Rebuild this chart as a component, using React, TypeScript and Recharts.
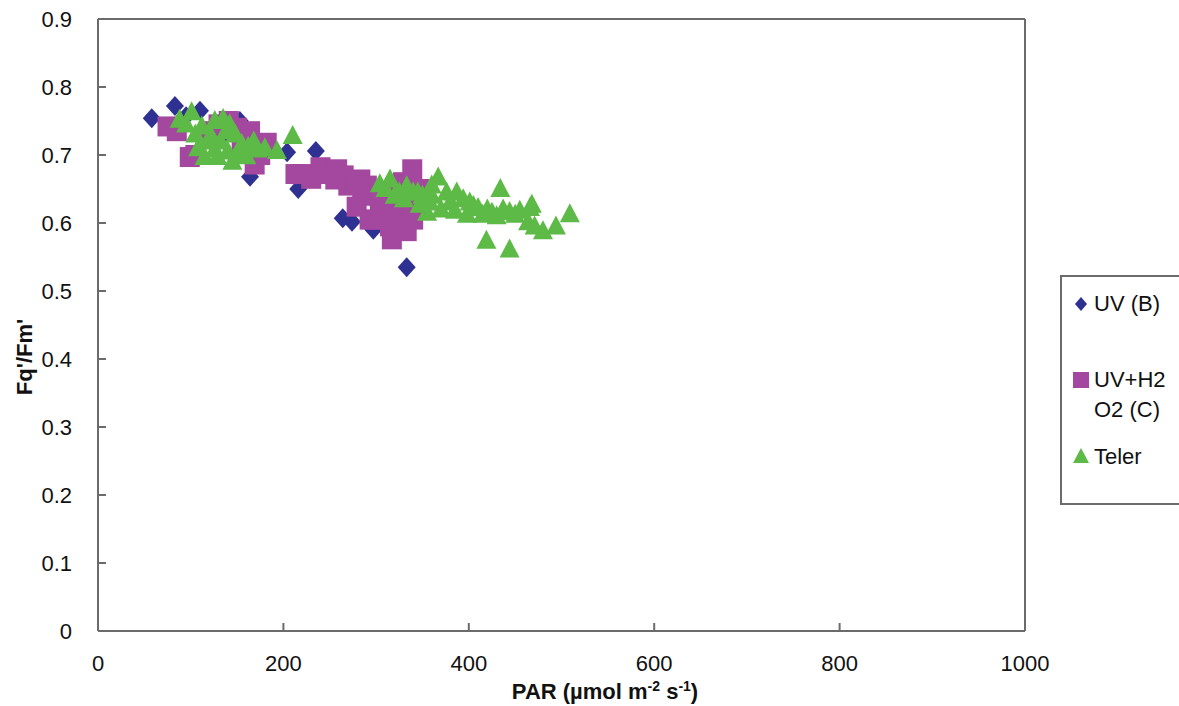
import { ScatterChart, Scatter, XAxis, YAxis, ReferenceLine, Label } from "recharts";

// PAR values (x) and Fq'/Fm' values (y) per treatment
const uvBPar = [58, 83, 95, 110, 137, 153, 164, 204, 216, 235, 250, 264, 274, 283, 297, 333];
const uvBFq = [0.754, 0.772, 0.757, 0.765, 0.733, 0.75, 0.668, 0.704, 0.65, 0.706, 0.672, 0.607, 0.602, 0.635, 0.59, 0.535];

const uvH2o2Par = [
  75, 85, 99, 105, 120, 130, 141, 150, 155, 164, 175, 182, 169, 213, 220, 230, 240, 248, 258,
  256, 265, 270, 283, 277, 285, 290, 279, 298, 293, 300, 304, 308, 312, 315, 317, 320, 325, 326,
  329, 330, 333, 338, 339, 340, 347,
];
const uvH2o2Fq = [
  0.742, 0.735, 0.697, 0.7, 0.735, 0.745, 0.75, 0.74, 0.72, 0.735, 0.7, 0.718, 0.686, 0.672,
  0.672, 0.665, 0.682, 0.672, 0.679, 0.664, 0.67, 0.655, 0.664, 0.657, 0.642, 0.655, 0.624, 0.64,
  0.605, 0.605, 0.627, 0.645, 0.61, 0.595, 0.576, 0.62, 0.6, 0.635, 0.66, 0.645, 0.588, 0.625,
  0.679, 0.605, 0.65,
];

const telerPar = [
  88, 95, 101, 105, 108, 112, 118, 122, 126, 132, 135, 139, 142, 140, 148, 150, 155, 160, 126,
  115, 129, 145, 162, 168, 172, 180, 193, 210,
  304, 310, 315, 320, 325, 330, 333, 340, 345, 347, 350, 355, 358, 360, 360, 367, 370, 376,
  380, 385, 387, 394, 398, 401, 405, 410, 415, 420, 425, 430, 434, 437, 444, 450, 455, 466,
  468, 464, 471, 480, 494, 509, 419, 444,
];
const telerFq = [
  0.752, 0.745, 0.763, 0.73, 0.71, 0.742, 0.72, 0.728, 0.75, 0.72, 0.753, 0.735, 0.745, 0.705,
  0.73, 0.7, 0.716, 0.698, 0.708, 0.697, 0.697, 0.69, 0.712, 0.72, 0.708, 0.71, 0.706, 0.728,
  0.657, 0.65, 0.664, 0.64, 0.645, 0.635, 0.654, 0.645, 0.645, 0.627, 0.64, 0.615, 0.63, 0.64,
  0.655, 0.667, 0.62, 0.645, 0.63, 0.618, 0.645, 0.635, 0.612, 0.63, 0.625, 0.622, 0.612, 0.62,
  0.615, 0.61, 0.65, 0.62, 0.616, 0.612, 0.618, 0.622, 0.627, 0.601, 0.595, 0.588, 0.595, 0.613,
  0.574, 0.561,
];

const xTicks = [0, 200, 400, 600, 800, 1000];
const yTicks = [0, 0.1, 0.2, 0.3, 0.4, 0.5, 0.6, 0.7, 0.8, 0.9];

const BLUE = "#2e3192";
const MAGENTA = "#a3489e";
const GREEN = "#5dba47";
const AXIS = "#6b6b6b";
const FONT = "'Liberation Sans', Arial, sans-serif";

const toPoints = (xs: number[], ys: number[]) => xs.map((x, i) => ({ par: x, fq: ys[i] }));

const uvBData = toPoints(uvBPar, uvBFq);
const uvH2o2Data = toPoints(uvH2o2Par, uvH2o2Fq);
const telerData = toPoints(telerPar, telerFq);

const Diamond = ({ cx, cy }: any) => (
  <polygon points={`${cx},${cy - 10} ${cx + 9},${cy} ${cx},${cy + 10} ${cx - 9},${cy}`} fill={BLUE} />
);
const Square = ({ cx, cy }: any) => <rect x={cx - 10} y={cy - 10} width={20} height={20} fill={MAGENTA} />;
const Triangle = ({ cx, cy }: any) => (
  <polygon points={`${cx},${cy - 11} ${cx + 10},${cy + 8} ${cx - 10},${cy + 8}`} fill={GREEN} />
);

// ticks drawn inward, like the Excel original
const YTick = ({ x, y, payload }: any) => (
  <g>
    <line x1={x} x2={x + 8} y1={y} y2={y} stroke={AXIS} strokeWidth={2} />
    <text x={x - 26} y={y} dy="0.36em" textAnchor="end" fontSize={22} fill="#111" fontFamily={FONT}>
      {payload.value}
    </text>
  </g>
);
const XTick = ({ x, y, payload }: any) => (
  <g>
    <line x1={x} x2={x} y1={y} y2={y - 8} stroke={AXIS} strokeWidth={2} />
    <text x={x} y={y + 40} textAnchor="middle" fontSize={22} fill="#111" fontFamily={FONT}>
      {payload.value}
    </text>
  </g>
);

const XTitle = () => (
  <text x={605} y={699} textAnchor="middle" fontSize={22} fontWeight="bold" fill="#111" fontFamily={FONT}>
    PAR (µmol m
    <tspan dy={-8} fontSize={14}>-2</tspan>
    <tspan dy={8}> s</tspan>
    <tspan dy={-8} fontSize={14}>-1</tspan>
    <tspan dy={8}>)</tspan>
  </text>
);
const YTitle = () => (
  <text
    x={24}
    y={357}
    transform="rotate(-90 24 357)"
    textAnchor="middle"
    dy="0.36em"
    fontSize={22}
    fontWeight="bold"
    fill="#111"
    fontFamily={FONT}
  >
    Fq'/Fm'
  </text>
);

const legendText = { position: "absolute" as const, left: 32, fontSize: 22, lineHeight: "24px", color: "#111" };

export default function App() {
  return (
    <div style={{ position: "relative", width: 1179, height: 706, fontFamily: FONT, background: "#fff" }}>
      <style>{`body{margin:0}`}</style>
      <ScatterChart width={1179} height={706} margin={{ top: 19, right: 154, bottom: 0, left: 0 }}>
        <XAxis
          type="number"
          dataKey="par"
          domain={[0, 1000]}
          ticks={xTicks}
          height={75}
          tickSize={0}
          tickMargin={0}
          tick={<XTick />}
          axisLine={{ stroke: AXIS, strokeWidth: 2 }}
        >
          <Label content={<XTitle />} />
        </XAxis>
        <YAxis
          type="number"
          dataKey="fq"
          domain={[0, 0.9]}
          ticks={yTicks}
          width={98}
          tickSize={0}
          tickMargin={0}
          tick={<YTick />}
          axisLine={{ stroke: AXIS, strokeWidth: 2 }}
        >
          <Label content={<YTitle />} />
        </YAxis>
        <ReferenceLine y={0.9} stroke={AXIS} strokeWidth={2} />
        <ReferenceLine x={1000} stroke={AXIS} strokeWidth={2} />
        <Scatter name="UV (B)" data={uvBData} shape={<Diamond />} isAnimationActive={false} />
        <Scatter name="UV+H2O2 (C)" data={uvH2o2Data} shape={<Square />} isAnimationActive={false} />
        <Scatter name="Teler" data={telerData} shape={<Triangle />} isAnimationActive={false} />
      </ScatterChart>

      <div
        style={{
          position: "absolute",
          left: 1060,
          top: 275,
          width: 140,
          height: 230,
          border: `2px solid ${AXIS}`,
          boxSizing: "border-box",
        }}
      >
        <svg style={{ position: "absolute", left: 0, top: 0 }} width={30} height={230}>
          <polygon points="19,20 25,27 19,34 13,27" fill={BLUE} />
          <rect x={11} y={95} width={16} height={16} fill={MAGENTA} />
          <polygon points="19,171 27,186 11,186" fill={GREEN} />
        </svg>
        <div style={{ ...legendText, top: 15 }}>UV (B)</div>
        <div style={{ ...legendText, top: 91 }}>UV+H2</div>
        <div style={{ ...legendText, top: 121 }}>O2 (C)</div>
        <div style={{ ...legendText, top: 168 }}>Teler</div>
      </div>
    </div>
  );
}
